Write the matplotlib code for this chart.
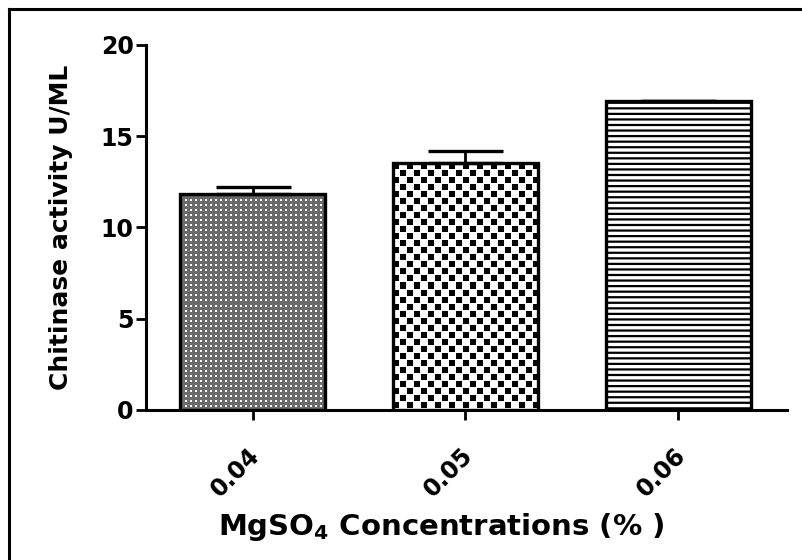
import matplotlib

matplotlib.use("Agg")
import matplotlib.pyplot as plt
import matplotlib.transforms as mtransforms
import numpy as np
from matplotlib.lines import Line2D

plt.rcParams["font.family"] = ["DejaVu Sans"]
plt.rcParams["mathtext.fontset"] = "custom"
plt.rcParams["mathtext.rm"] = "DejaVu Sans:bold"
plt.rcParams["mathtext.bf"] = "DejaVu Sans:bold"
plt.rcParams["hatch.linewidth"] = 1.6

# data
concentrations = ["0.04", "0.05", "0.06"]
activity = [11.8, 13.5, 16.9]
activity_err = [0.4, 0.7, 0.0]
y_ticks = [0, 5, 10, 15, 20]


def dots_pattern(h, w):
    # grey halftone with white dots, ~5 px period
    yy, xx = np.indices((h, w))
    img = np.full((h, w), 0.42)
    img[(yy % 5 < 2) & (xx % 5 < 2)] = 1.0
    return img


def checker_pattern(h, w, cell=7):
    yy, xx = np.indices((h, w))
    cx, cy = xx // cell, yy // cell
    on = ((cx + cy) % 2 == 0) & (xx % cell < cell - 1) & (yy % cell < cell - 1)
    img = np.ones((h, w))
    img[on] = 0.0
    return img


def fill_bar(ax, bar, maker):
    bb = bar.get_window_extent()
    h, w = int(round(bb.height)), int(round(bb.width))
    x0, y0 = bar.get_x(), bar.get_y()
    ax.imshow(maker(h, w), cmap="gray", vmin=0, vmax=1, interpolation="nearest",
              extent=(x0, x0 + bar.get_width(), y0, y0 + bar.get_height()),
              aspect="auto", zorder=1, clip_path=bar, origin="upper")


fig = plt.figure(figsize=(8.03, 5.6), dpi=100)
ax = fig.add_axes([0.182, 0.268, 0.798, 0.652])
x = np.arange(len(concentrations))
ax.set_xlim(-0.5, 2.51)
ax.set_ylim(0, 20)

bars = ax.bar(x, activity, width=0.68, facecolor="none", edgecolor="black",
              linewidth=2.4, zorder=3)
bars[2].set_facecolor("white")
bars[2].set_hatch("---")

ax.errorbar(x, activity, yerr=[np.zeros(len(x)), activity_err], fmt="none",
            ecolor="black", elinewidth=2, capsize=27, capthick=2.4, zorder=2)

fill_bar(ax, bars[0], dots_pattern)
fill_bar(ax, bars[1], checker_pattern)
ax.set_xlim(-0.5, 2.51)
ax.set_ylim(0, 20)

for side in ["top", "right"]:
    ax.spines[side].set_visible(False)
for side in ["left", "bottom"]:
    ax.spines[side].set_linewidth(2.2)

ax.set_yticks(y_ticks)
ax.set_xticks(x)
ax.set_xticklabels(concentrations, rotation=45, ha="right", va="center",
                   rotation_mode="anchor")
ax.tick_params(axis="both", length=7, width=2, labelsize=17)
ax.tick_params(axis="x", pad=23)
ax.tick_params(axis="y", pad=2)
shift = mtransforms.ScaledTranslation(4 / 100, 0, fig.dpi_scale_trans)
for lbl in ax.get_xticklabels():
    lbl.set_transform(lbl.get_transform() + shift)
for lbl in ax.get_xticklabels() + ax.get_yticklabels():
    lbl.set_fontweight("bold")

ax.set_ylabel("Chitinase activity U/ML", fontsize=18, fontweight="bold", labelpad=20)
ax.set_xlabel("MgSO$_4$ Concentrations (% )", fontsize=21, fontweight="bold", labelpad=7)
ax.xaxis.label.set_x(0.46)

# outer frame (left and top edges only)
fig.add_artist(Line2D([0.011, 0.011], [0.0, 0.984], color="black", linewidth=2.2,
                      transform=fig.transFigure))
fig.add_artist(Line2D([0.011, 1.0], [0.984, 0.984], color="black", linewidth=2.2,
                      transform=fig.transFigure))

fig.savefig("out.png", dpi=100)
